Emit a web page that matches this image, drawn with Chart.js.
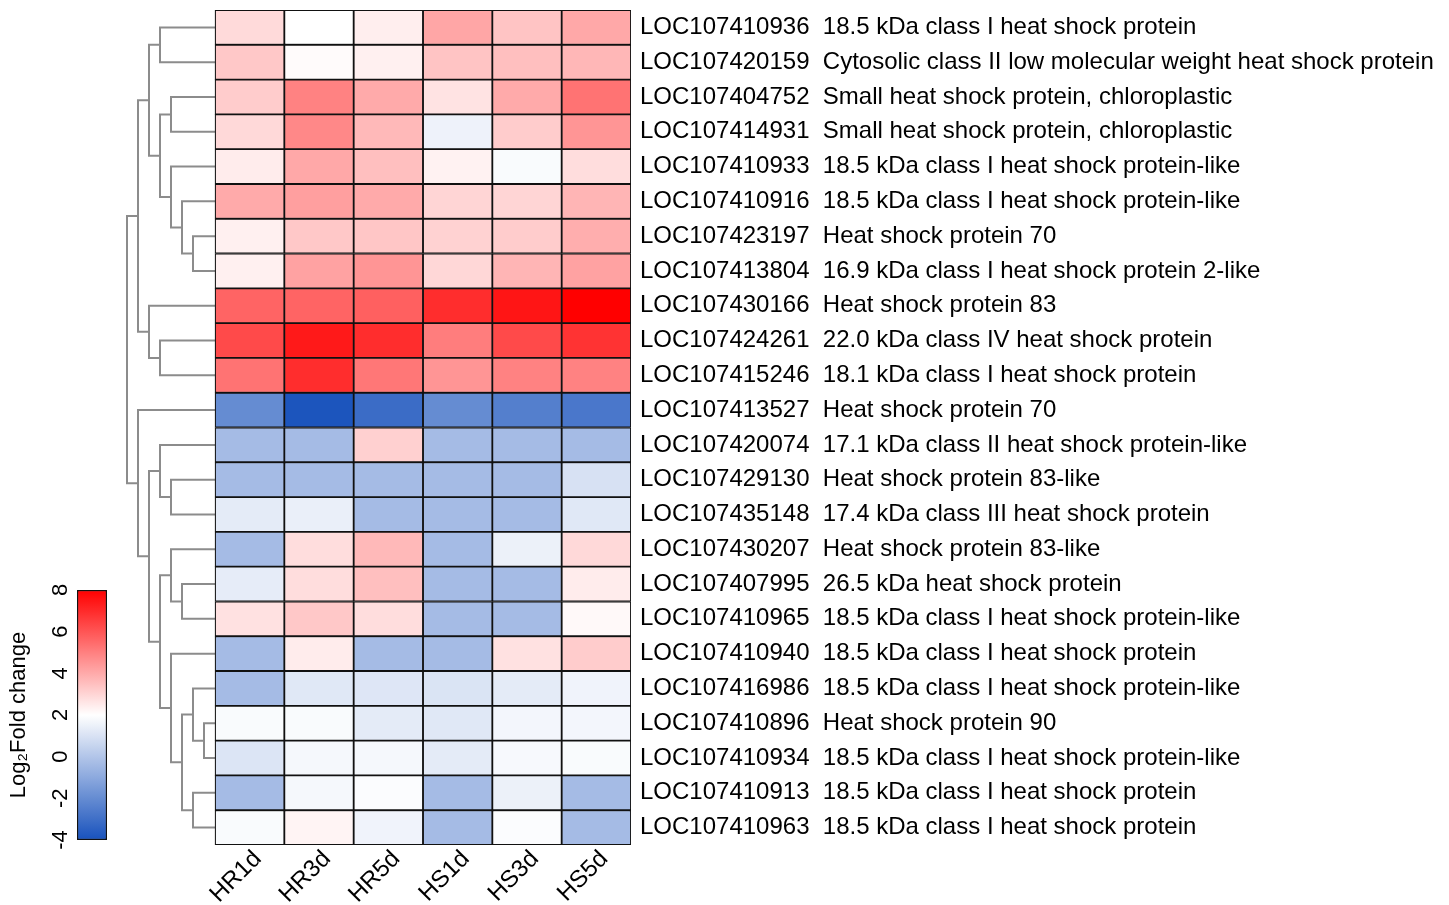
<!DOCTYPE html>
<html>
<head>
<meta charset="utf-8">
<script src="https://cdn.jsdelivr.net/npm/chart.js@4.4.1/dist/chart.umd.min.js"></script>
<style>
  html, body { margin: 0; padding: 0; background: #fff; }
  #main { position: absolute; left: 0; top: 0; width: 1449px; height: 905px; }
  #legend { position: absolute; left: 0; top: 570px; width: 125px; height: 285px; }
</style>
</head>
<body>
<div id="main"><canvas id="heatmap"></canvas></div>
<div id="legend"><canvas id="scale"></canvas></div>
<script>
// samples (heatmap columns)
const columns = ['HR1d', 'HR3d', 'HR5d', 'HS1d', 'HS3d', 'HS5d'];

// genes, top to bottom
const geneIds = [
  'LOC107410936', 'LOC107420159', 'LOC107404752', 'LOC107414931', 'LOC107410933', 'LOC107410916',
  'LOC107423197', 'LOC107413804', 'LOC107430166', 'LOC107424261', 'LOC107415246', 'LOC107413527',
  'LOC107420074', 'LOC107429130', 'LOC107435148', 'LOC107430207', 'LOC107407995', 'LOC107410965',
  'LOC107410940', 'LOC107416986', 'LOC107410896', 'LOC107410934', 'LOC107410913', 'LOC107410963'
];
const geneNames = [
  '18.5 kDa class I heat shock protein',
  'Cytosolic class II low molecular weight heat shock protein',
  'Small heat shock protein, chloroplastic',
  'Small heat shock protein, chloroplastic',
  '18.5 kDa class I heat shock protein-like',
  '18.5 kDa class I heat shock protein-like',
  'Heat shock protein 70',
  '16.9 kDa class I heat shock protein 2-like',
  'Heat shock protein 83',
  '22.0 kDa class IV heat shock protein',
  '18.1 kDa class I heat shock protein',
  'Heat shock protein 70',
  '17.1 kDa class II heat shock protein-like',
  'Heat shock protein 83-like',
  '17.4 kDa class III heat shock protein',
  'Heat shock protein 83-like',
  '26.5 kDa heat shock protein',
  '18.5 kDa class I heat shock protein-like',
  '18.5 kDa class I heat shock protein',
  '18.5 kDa class I heat shock protein-like',
  'Heat shock protein 90',
  '18.5 kDa class I heat shock protein-like',
  '18.5 kDa class I heat shock protein',
  '18.5 kDa class I heat shock protein'
];

// log2 fold change, one array per sample (same gene order)
const hr1d = [2.87, 3.3, 3.2, 2.9, 2.45, 4.0, 2.35, 2.35, 5.65, 6.25, 5.3, -2.0, -0.35, -0.35, 1.3, -0.35, 1.35, 2.7, -0.35, -0.35, 1.85, 1.1, -0.35, 1.85];
const hr3d = [2.0, 2.1, 4.95, 4.8, 4.05, 4.25, 3.3, 4.2, 5.65, 7.4, 6.95, -3.9, -0.35, -0.35, 1.45, 2.8, 2.8, 3.3, 2.45, 1.2, 1.85, 1.75, 1.75, 2.25];
const hr5d = [2.4, 2.35, 4.0, 3.65, 3.5, 4.0, 3.35, 4.5, 5.75, 6.95, 5.2, -3.1, 3.1, -0.35, -0.35, 3.65, 3.5, 2.8, -0.35, 1.15, 1.3, 1.75, 1.9, 1.6];
const hs1d = [4.1, 3.4, 2.65, 1.55, 2.3, 3.0, 3.05, 2.95, 6.95, 5.05, 4.5, -2.0, -0.35, -0.35, -0.35, -0.35, -0.35, -0.35, -0.35, 1.05, 1.2, 1.3, -0.35, -0.35];
const hs3d = [3.4, 3.5, 4.0, 3.2, 1.85, 3.0, 3.2, 3.75, 7.5, 6.25, 4.95, -2.45, -0.35, -0.35, -0.35, 1.5, -0.35, -0.35, 2.7, 1.3, 1.7, 1.8, 1.5, 1.9];
const hs5d = [4.05, 3.7, 5.3, 4.5, 2.8, 3.75, 3.9, 4.2, 8.0, 6.8, 4.95, -2.7, -0.35, 0.96, 1.2, 2.9, 2.45, 2.15, 3.2, 1.6, 1.7, 1.85, -0.35, -0.35];
const series = [hr1d, hr3d, hr5d, hs1d, hs3d, hs5d];

// row dendrogram: leaves are 0..23, merge k creates node 24+k
const mergeLeft   = [0, 2, 6, 5, 4, 25, 24, 9, 8, 30, 13, 12, 16, 15, 20, 19, 22, 39, 18, 37, 35, 11, 33];
const mergeRight  = [1, 3, 7, 26, 27, 28, 29, 10, 31, 32, 14, 34, 17, 36, 21, 38, 23, 40, 41, 42, 43, 44, 45];
const mergeHeight = [5, 4, 2, 3, 4, 5, 6, 5, 6, 7, 4, 5, 3, 4, 1, 2, 2, 3, 4, 5, 6, 7, 8];

// colour key
const legendTicks = [-4, -2, 0, 2, 4, 6, 8];

// layout (px)
const W = 1449, H = 905;
const plotLeft = 120, heatLeft = 215, heatRight = 631, heatTop = 10, heatBottom = 845;
const dendroStep = 11;
const colW = (heatRight - heatLeft) / columns.length;
const labelShift = 8 / colW; // rotated column labels end a bit right of the cell centre

Chart.defaults.font.family = '"Liberation Sans", Arial, Helvetica, sans-serif';
Chart.defaults.color = '#000';

const blueEnd = [24, 82, 188];
function fcColor(v) {
  let r, g, b;
  if (v <= 2) {
    const t = Math.min(1, (2 - v) / 6);
    r = 255 + (blueEnd[0] - 255) * t;
    g = 255 + (blueEnd[1] - 255) * t;
    b = 255 + (blueEnd[2] - 255) * t;
  } else {
    const t = Math.min(1, (v - 2) / 6);
    r = 255; g = 255 * (1 - t); b = 255 * (1 - t);
  }
  return `rgb(${Math.round(r)},${Math.round(g)},${Math.round(b)})`;
}

function noEdgePadding(s) {
  s.paddingTop = 0; s.paddingBottom = 0; s.paddingLeft = 0; s.paddingRight = 0;
}

const heatDatasets = columns.map((col, j) => ({
  type: 'bar',
  label: col,
  data: geneIds.map((_, i) => ({ y: i, x: [j, j + 1] })),
  backgroundColor: series[j].map(fcColor),
  borderColor: '#111',
  borderWidth: 1.25,
  borderSkipped: false,
  grouped: false,
  barPercentage: 1,
  categoryPercentage: 1,
  xAxisID: 'x',
  yAxisID: 'y'
}));

// build dendrogram segments from the merge table
const nodeY = geneIds.map((_, i) => i);
const nodeH = geneIds.map(() => 0);
const dendroDatasets = [];
mergeLeft.forEach((a, k) => {
  const b = mergeRight[k], h = mergeHeight[k];
  nodeY.push((nodeY[a] + nodeY[b]) / 2);
  nodeH.push(h);
  dendroDatasets.push({
    type: 'line',
    data: [
      { x: -nodeH[a], y: nodeY[a] },
      { x: -h, y: nodeY[a] },
      { x: -h, y: nodeY[b] },
      { x: -nodeH[b], y: nodeY[b] }
    ],
    borderColor: '#8c8c8c',
    borderWidth: 2,
    pointRadius: 0,
    fill: false,
    tension: 0,
    xAxisID: 'xd',
    yAxisID: 'y'
  });
});

new Chart(document.getElementById('heatmap'), {
  type: 'bar',
  data: { datasets: [...heatDatasets, ...dendroDatasets] },
  options: {
    indexAxis: 'y',
    responsive: true,
    maintainAspectRatio: false,
    animation: false,
    events: [],
    layout: { padding: { left: plotLeft, top: heatTop, right: 0, bottom: 0 } },
    plugins: { legend: { display: false }, tooltip: { enabled: false } },
    scales: {
      x: {
        type: 'linear',
        position: 'bottom',
        bounds: 'data',
        offset: false,
        min: -(heatLeft - plotLeft) / colW,
        max: columns.length,
        afterBuildTicks: s => { s.ticks = columns.map((_, j) => ({ value: j + 0.5 + labelShift })); },
        afterFit: s => { s.height = H - heatBottom; noEdgePadding(s); },
        grid: { display: false, drawTicks: false },
        border: { display: false },
        ticks: {
          autoSkip: false,
          minRotation: 45,
          maxRotation: 45,
          padding: 0,
          font: { size: 24 },
          callback: (v, i) => columns[i]
        }
      },
      xd: {
        type: 'linear',
        display: false,
        bounds: 'data',
        offset: false,
        min: -(heatLeft - plotLeft) / dendroStep,
        max: (heatRight - heatLeft) / dendroStep
      },
      y: {
        type: 'linear',
        position: 'right',
        bounds: 'data',
        offset: false,
        reverse: true,
        min: -0.5,
        max: geneIds.length - 0.5,
        afterBuildTicks: s => { s.ticks = geneIds.map((_, i) => ({ value: i })); },
        afterFit: s => { s.width = W - heatRight; noEdgePadding(s); },
        grid: { display: false, drawTicks: false },
        border: { display: false },
        ticks: {
          padding: 9,
          font: { size: 24 },
          callback: v => geneIds[v] + '  ' + geneNames[v]
        }
      }
    }
  }
});

// colour key
new Chart(document.getElementById('scale'), {
  type: 'bar',
  data: {
    labels: [''],
    datasets: [{
      data: [[legendTicks[0], legendTicks[legendTicks.length - 1]]],
      backgroundColor: ctx => {
        const chart = ctx.chart;
        if (!chart.chartArea) return null;
        const ys = chart.scales.y;
        const lo = legendTicks[0], hi = legendTicks[legendTicks.length - 1];
        const grad = chart.ctx.createLinearGradient(0, ys.getPixelForValue(lo), 0, ys.getPixelForValue(hi));
        for (let v = lo; v <= hi; v += 0.5) grad.addColorStop((v - lo) / (hi - lo), fcColor(v));
        return grad;
      },
      borderColor: '#111',
      borderWidth: 1.5,
      borderSkipped: false,
      barPercentage: 1,
      categoryPercentage: 1
    }]
  },
  options: {
    responsive: true,
    maintainAspectRatio: false,
    animation: false,
    events: [],
    layout: { padding: { top: 20, bottom: 15, right: 18, left: 0 } },
    plugins: { legend: { display: false }, tooltip: { enabled: false } },
    scales: {
      x: { display: false },
      y: {
        min: legendTicks[0],
        max: legendTicks[legendTicks.length - 1],
        bounds: 'data',
        afterBuildTicks: s => { s.ticks = legendTicks.map(v => ({ value: v })); },
        afterFit: s => { s.width = 77; noEdgePadding(s); },
        grid: { display: false, drawTicks: false },
        border: { display: false },
        ticks: { minRotation: 90, maxRotation: 90, crossAlign: 'center', padding: 6, font: { size: 22 } },
        title: { display: true, text: 'Log\u2082Fold change', font: { size: 22 }, padding: { top: 6, bottom: 0 } }
      }
    }
  }
});
</script>
</body>
</html>
